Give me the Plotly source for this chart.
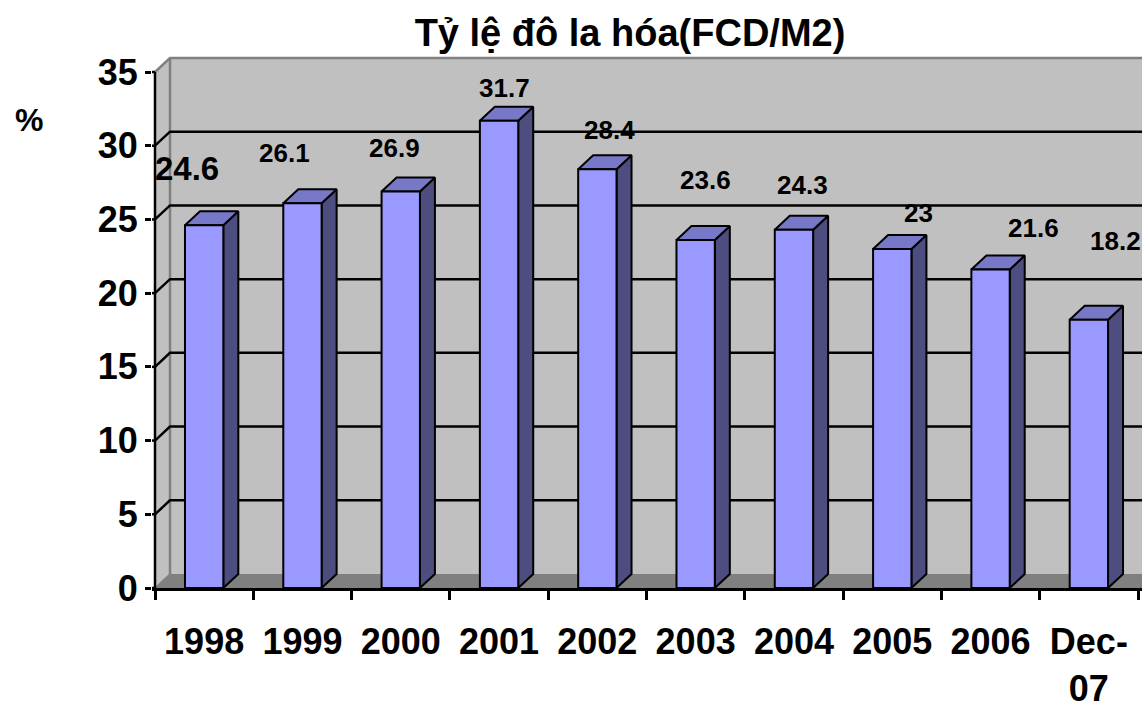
import plotly.graph_objects as go

# ---------------- data ----------------
categories = ["1998", "1999", "2000", "2001", "2002", "2003", "2004", "2005", "2006", "Dec-07"]
values = [24.6, 26.1, 26.9, 31.7, 28.4, 23.6, 24.3, 23, 21.6, 18.2]
value_labels = ["24.6", "26.1", "26.9", "31.7", "28.4", "23.6", "24.3", "23", "21.6", "18.2"]
x_tick_labels = ["1998", "1999", "2000", "2001", "2002", "2003", "2004", "2005", "2006", "Dec-<br>07"]
y_ticks = [0, 5, 10, 15, 20, 25, 30, 35]
y_tick_labels = ["0", "5", "10", "15", "20", "25", "30", "35"]
title_text = "Tỷ lệ đô la hóa(FCD/M2)"
unit_text = "%"

# ---------------- layout / style ----------------
W, H = 1142, 721
ML, MT, MB = 152, 56, 133
PX_X = 98.3          # px per category
PX_Y = 14.743        # px per y unit
X0 = -0.5 - 3 / PX_X
X1 = X0 + (W - ML) / PX_X
Y1 = (H - MT - MB) / PX_Y
DX = 15 / PX_X       # 3D depth offset (x units)
DY = 14 / PX_Y       # 3D depth offset (y units)
HALF = 0.195         # half bar width
YMAX = y_ticks[-1]
N = len(categories)
XL, XR = -0.5, N - 0.5
FONT = "Liberation Sans, Arial, sans-serif"
label_shift = [(-17, 57), (-18, 50), (-6, 43), (5, 33), (12, 39),
               (10, 60), (9, 45), (26, 36), (43, 42), (27, 79)]
label_size = [33, 26, 26, 26, 26, 26, 26, 26, 26, 26]

C_FRONT, C_TOP, C_SIDE = "#9999FF", "#7878C8", "#4D4D80"
C_WALL, C_FLOOR, C_EDGE = "#C0C0C0", "#808080", "#808080"
LW = 2.5

fig = go.Figure()


def poly(xs, ys, fill, line_color=None, lw=0):
    fig.add_trace(go.Scatter(
        x=xs + [xs[0]], y=ys + [ys[0]], mode="lines", fill="toself",
        fillcolor=fill, line=dict(color=line_color or fill, width=lw),
        hoverinfo="skip", showlegend=False))


def line(xs, ys, color, lw=LW):
    fig.add_trace(go.Scatter(x=xs, y=ys, mode="lines",
                             line=dict(color=color, width=lw),
                             hoverinfo="skip", showlegend=False))


# back wall
poly([XL + DX, X1 + 1, X1 + 1, XL + DX], [DY, DY, YMAX + DY, YMAX + DY], C_WALL)
# side wall
poly([XL, XL + DX, XL + DX, XL], [0, DY, YMAX + DY, YMAX], C_WALL)
# floor
poly([XL, X1 + 1, X1 + 1, XL + DX], [0, 0, DY, DY], C_FLOOR)

# wall edges
line([XL, XL + DX, X1 + 1], [YMAX, YMAX + DY, YMAX + DY], C_EDGE, 2.5)
line([XL + DX, XL + DX], [DY, YMAX + DY], C_EDGE, 2.5)
line([XL, XL + DX], [0, DY], C_EDGE, 1.5)

# gridlines (side wall + back wall)
gx, gy = [], []
for v in y_ticks[1:-1]:
    gx += [XL, XL + DX, X1 + 1, None]
    gy += [v, v + DY, v + DY, None]
line(gx, gy, "black", LW)

# front value axis line + tick stubs inside plot area
line([XL, XL], [0, YMAX], "black", LW)
tx, ty = [], []
for v in y_ticks:
    tx += [X0, XL, None]
    ty += [v, v, None]
line(tx, ty, "black", LW)

# bars
for i, v in enumerate(values):
    l, r = i - HALF, i + HALF
    poly([r, r + DX, r + DX, r], [0, DY, v + DY, v], C_SIDE, "black", 2)      # side
    poly([l, r, r + DX, l + DX], [v, v, v + DY, v + DY], C_TOP, "black", 2)   # top
    poly([l, r, r, l], [0, 0, v, v], C_FRONT, "black", 2)                     # front

annotations = []
for i, (v, t) in enumerate(zip(values, value_labels)):
    sx, sy = label_shift[i]
    annotations.append(dict(
        x=i, y=v, xref="x", yref="y", text=t, showarrow=False,
        xshift=sx, yshift=sy, xanchor="center", yanchor="middle",
        font=dict(family=FONT, size=label_size[i], color="black", weight="bold")))

pw, ph = W - ML, H - MT - MB
annotations.append(dict(
    x=(29 - ML) / pw, y=(H - MB - 120) / ph, xref="paper", yref="paper",
    text=unit_text, showarrow=False, xanchor="center", yanchor="middle",
    font=dict(family=FONT, size=32, color="black", weight="bold")))

fig.update_layout(
    width=W, height=H,
    margin=dict(l=ML, r=0, t=MT, b=MB, autoexpand=False),
    paper_bgcolor="white", plot_bgcolor="white",
    title=dict(text=title_text, x=630 / W, y=1 - 33 / H, xref="container", yref="container",
               xanchor="center", yanchor="middle",
               font=dict(family=FONT, size=38, color="black", weight="bold")),
    xaxis=dict(range=[X0, X1], tickmode="array", tickvals=list(range(N)),
               ticktext=x_tick_labels, ticks="", showgrid=False, zeroline=False,
               showline=True, linecolor="black", linewidth=LW, automargin=False,
               tickangle=0,
               tickfont=dict(family=FONT, size=36, color="black", weight="bold"),
               ticklabelstandoff=20,
               minor=dict(tickmode="array", tickvals=[k - 0.5 for k in range(N + 1)],
                          ticks="outside", ticklen=9, tickwidth=LW, tickcolor="black",
                          showgrid=False),
               fixedrange=True),
    yaxis=dict(range=[0, Y1], tickmode="array", tickvals=y_ticks, ticktext=y_tick_labels,
               ticks="outside", ticklen=6, tickwidth=LW, tickcolor="black",
               showgrid=False, zeroline=False, showline=False, automargin=False,
               tickfont=dict(family=FONT, size=36, color="black", weight="bold"),
               fixedrange=True),
    annotations=annotations,
)

fig.write_html("out.html", config={"displayModeBar": False},
               post_script="document.body.style.margin='0';document.body.style.overflow='hidden';")
